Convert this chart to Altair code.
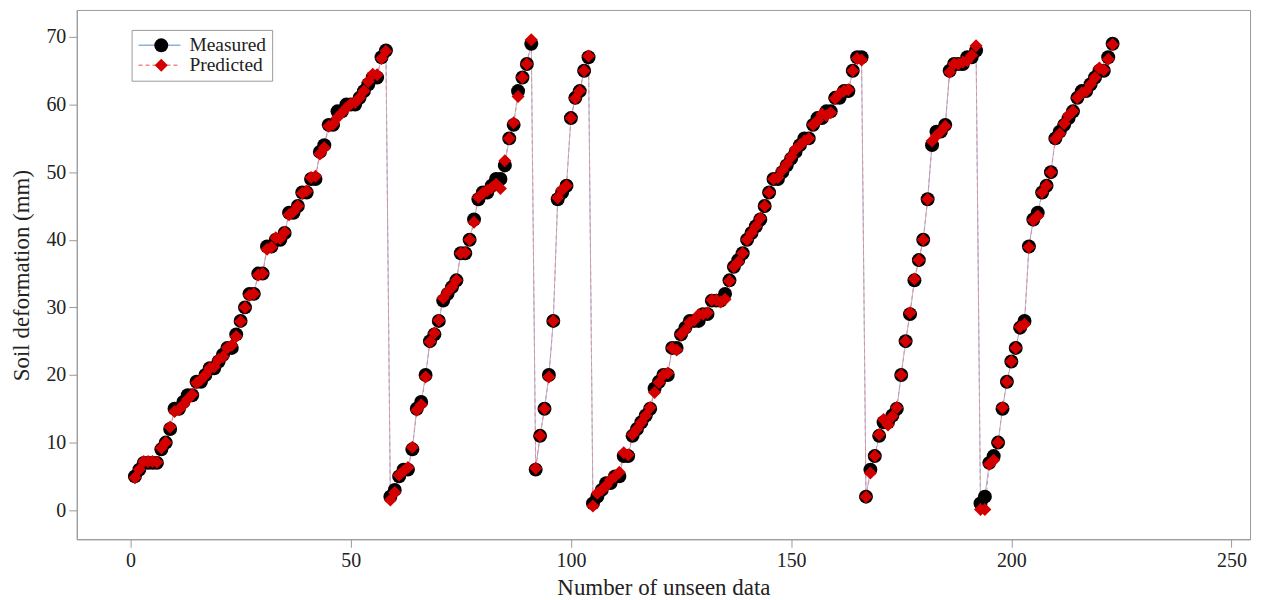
import altair as alt
import pandas as pd

# ---------------- data ----------------
n_index = list(range(1, 224))

measured = [
    # 1-58
    5, 6, 7, 7, 7, 7, 9, 10, 12, 15, 15, 16, 17, 17, 19, 19, 20, 21, 21, 22,
    23, 24, 24, 26, 28, 30, 32, 32, 35, 35, 39, 39, 40, 40, 41, 44, 44, 45, 47, 47,
    49, 49, 53, 54, 57, 57, 59, 59, 60, 60, 60, 61, 62, 63, 64, 64, 67, 68,
    # 59-91
    2, 3, 5, 6, 6, 9, 15, 16, 20, 25, 26, 28, 31, 32, 33, 34, 38, 38, 40, 43,
    46, 47, 47, 48, 49, 49, 51, 55, 57, 62, 64, 66, 69,
    # 92-104
    6, 11, 15, 20, 28, 46, 47, 48, 58, 61, 62, 65, 67,
    # 105-166
    1, 2, 3, 4, 4, 5, 5, 8, 8, 11, 12, 13, 14, 15, 18, 19, 20, 20, 24, 24,
    26, 27, 28, 28, 28, 29, 29, 31, 31, 31, 32, 34, 36, 37, 38, 40, 41, 42, 43, 45,
    47, 49, 49, 50, 51, 52, 53, 54, 55, 55, 57, 58, 58, 59, 59, 61, 61, 62, 62, 65,
    67, 67,
    # 167-192
    2, 6, 8, 11, 13, 13, 14, 15, 20, 25, 29, 34, 37, 40, 46, 54, 56, 56, 57, 65,
    66, 66, 66, 67, 67, 68,
    # 193-223
    1, 2, 7, 8, 10, 15, 19, 22, 24, 27, 28, 39, 43, 44, 47, 48, 50, 55, 56, 57,
    58, 59, 61, 62, 62, 63, 64, 65, 65, 67, 69,
]

predicted = [
    # 1-58
    4.8, 6.0, 7.2, 7.2, 7.2, 7.1, 9.2, 10.0, 12.3, 14.6, 14.9, 15.6, 16.4, 17.1, 18.8, 19.3, 20.0, 21.0, 21.2, 22.3,
    22.7, 24.0, 24.4, 25.7, 27.9, 30.0, 31.8, 32.0, 34.8, 35.0, 38.6, 38.9, 40.3, 40.2, 41.1, 43.7, 44.2, 45.0, 46.9, 47.2,
    49.2, 49.4, 52.7, 53.6, 56.8, 57.1, 58.1, 58.8, 59.5, 60.1, 60.3, 61.0, 62.0, 63.4, 64.5, 64.4, 66.8, 67.9,
    # 59-91
    1.5, 2.6, 5.2, 5.8, 6.3, 9.3, 14.8, 15.6, 19.7, 24.9, 26.2, 28.1, 31.4, 32.3, 33.0, 34.0, 38.0, 38.1, 40.0, 42.6,
    46.3, 46.9, 47.3, 47.7, 48.2, 47.6, 51.7, 55.0, 57.3, 61.2, 64.0, 66.0, 69.6,
    # 92-104
    6.2, 11.0, 15.0, 19.7, 28.0, 46.2, 47.4, 48.0, 58.0, 60.9, 62.0, 65.0, 67.2,
    # 105-166
    0.6, 2.5, 3.0, 3.6, 4.5, 5.0, 5.6, 8.5, 8.2, 11.2, 12.0, 13.0, 14.0, 15.2, 17.4, 18.9, 20.0, 20.3, 24.0, 23.7,
    26.0, 26.7, 27.8, 28.1, 28.9, 29.0, 29.2, 31.1, 31.1, 30.8, 31.2, 33.9, 36.0, 36.7, 38.0, 40.0, 41.0, 42.0, 43.2, 45.0,
    47.0, 49.0, 49.2, 50.3, 51.2, 52.3, 53.4, 54.0, 54.6, 55.0, 57.0, 57.6, 58.6, 58.4, 58.8, 60.9, 61.6, 62.0, 62.2, 65.0,
    66.8, 66.6,
    # 167-192
    2.0, 5.5, 8.0, 11.2, 13.4, 12.6, 13.9, 15.2, 20.0, 25.0, 29.2, 34.2, 37.0, 40.0, 46.0, 54.6, 55.4, 56.0, 56.8, 64.8,
    66.0, 66.0, 66.3, 66.5, 67.3, 68.7,
    # 193-223
    0.1, 0.1, 6.8, 7.4, 10.0, 15.2, 19.0, 22.0, 24.0, 27.1, 27.5, 38.9, 42.9, 43.5, 47.0, 48.0, 50.0, 54.9, 55.7, 57.2,
    58.4, 59.0, 61.0, 61.7, 62.0, 63.0, 64.0, 65.4, 65.1, 66.7, 68.9,
]

series_names = ["Measured", "Predicted"]
# marker-only keys (kept distinct so the marker legend is not merged with the line legend)
marker_keys = ["Measured marker", "Predicted marker"]
x_ticks = [0, 50, 100, 150, 200, 250]
y_ticks = [0, 10, 20, 30, 40, 50, 60, 70]

df = pd.DataFrame({
    "n": n_index * 2,
    "value": measured + predicted,
    "series": [series_names[0]] * len(n_index) + [series_names[1]] * len(n_index),
    "series_pt": [marker_keys[0]] * len(n_index) + [marker_keys[1]] * len(n_index),
})

# ---------------- styling ----------------
FONT = "Liberation Serif"
GRAY = "#9a9a9a"
TXT = "#222222"

xscale = alt.Scale(domain=[-12.2, 254.2], nice=False, zero=False)
yscale = alt.Scale(domain=[-4.3, 74.0], nice=False, zero=False)

xenc = alt.X(
    "n:Q", scale=xscale,
    axis=alt.Axis(values=x_ticks, title="Number of unseen data", grid=False,
                  tickSize=8, labelPadding=3, titleY=55, titleBaseline="alphabetic"),
)
yenc = alt.Y(
    "value:Q", scale=yscale,
    axis=alt.Axis(values=y_ticks, title="Soil deformation (mm)", grid=False,
                  tickSize=8, labelPadding=3, titleX=-55, titleY=266,
                  titleBaseline="middle", titleAlign="center", titleAngle=-90),
)

line_legend = alt.Legend(
    title=None, orient="none", legendX=55, legendY=20,
    symbolType="stroke", symbolSize=1764, symbolStrokeWidth=1.5,
    labelFont=FONT, labelFontSize=19.5, labelColor=TXT, labelOffset=8,
    labelExpr="datum.label + '\\u00a0\\u00a0'",
    padding=6, strokeColor=GRAY, rowPadding=0, clipHeight=19,
)
point_legend = alt.Legend(
    title=None, orient="none", legendX=69, legendY=20,
    symbolSize=170, symbolStrokeWidth=0, symbolOpacity=1,
    labelFont=FONT, labelFontSize=19.5, labelExpr="''", labelOffset=8,
    padding=6, rowPadding=0, clipHeight=19,
)

lines = alt.Chart(df).mark_line(strokeWidth=1).encode(
    x=xenc, y=yenc,
    stroke=alt.Stroke("series:N",
                      scale=alt.Scale(domain=series_names, range=["#8fb0e0", "#ee8a8a"]),
                      legend=line_legend),
    strokeDash=alt.StrokeDash("series:N",
                              scale=alt.Scale(domain=series_names, range=[[1, 0], [4, 3]]),
                              legend=line_legend),
)

points = alt.Chart(df).mark_point(filled=True, opacity=1, strokeWidth=0).encode(
    x=xenc, y=yenc,
    color=alt.Color("series_pt:N",
                    scale=alt.Scale(domain=marker_keys, range=["#000000", "#d40000"]),
                    legend=point_legend),
    shape=alt.Shape("series_pt:N",
                    scale=alt.Scale(domain=marker_keys, range=["circle", "diamond"]),
                    legend=point_legend),
    size=alt.Size("series_pt:N",
                  scale=alt.Scale(domain=marker_keys, range=[196, 170]),
                  legend=None),
)

chart = (
    alt.layer(lines, points)
    .properties(
        width=1177, height=531,
        autosize=alt.AutoSizeParams(type="none"),
        padding={"left": 69, "top": 1, "right": 4, "bottom": 60},
        background="white",
    )
    .configure_view(stroke=GRAY, strokeWidth=1)
    .configure_axis(
        labelFont=FONT, labelFontSize=20, labelColor=TXT,
        titleFont=FONT, titleFontSize=23, titleFontWeight="normal", titleColor=TXT,
        domainColor=GRAY, tickColor=GRAY,
    )
)

chart.save("out.html", embed_options={"renderer": "svg", "actions": False})
